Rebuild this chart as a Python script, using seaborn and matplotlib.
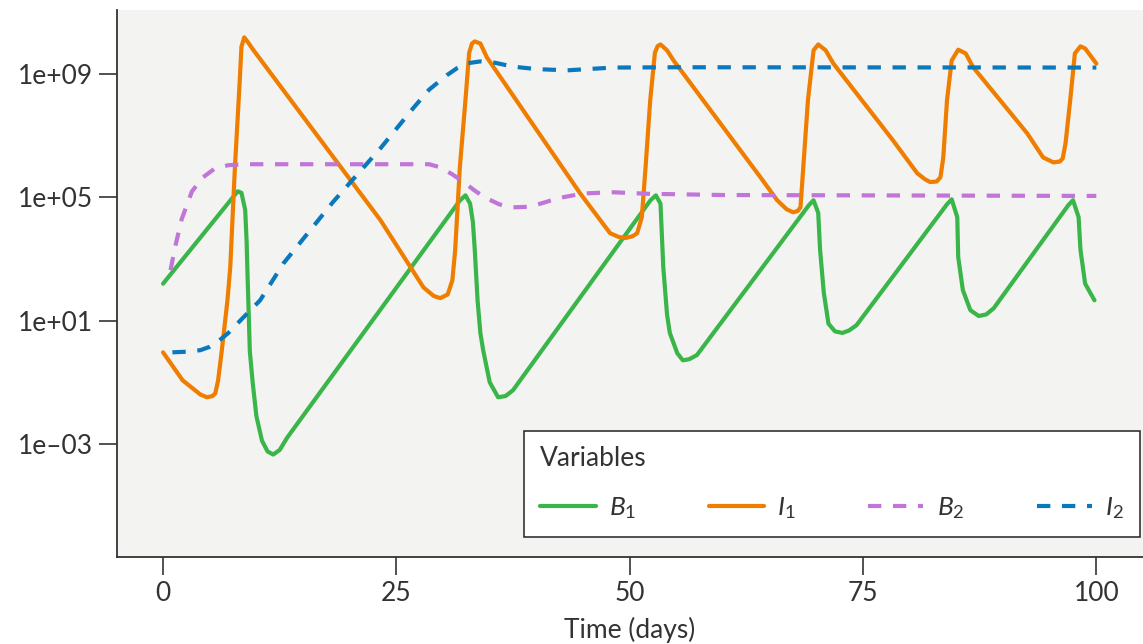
import numpy as np
import pandas as pd
import matplotlib
matplotlib.use('Agg')
import matplotlib.pyplot as plt
import seaborn as sns

sns.set_theme(style='ticks')
plt.rcParams['font.family'] = ['Lato', 'DejaVu Sans']
plt.rcParams['mathtext.fontset'] = 'custom'
plt.rcParams['mathtext.it'] = 'Lato:italic'
plt.rcParams['mathtext.rm'] = 'Lato'

# time (days) and log10 of each variable
b1_t = [0, 7.6, 8.0, 8.4, 8.8, 8.95, 9.05, 9.15, 9.3, 9.6, 10.0, 10.6, 11.2, 11.8, 12.5, 13.3,
        31.8, 32.4, 32.9, 33.2, 33.4, 33.7, 34.0, 34.3, 35.0, 35.9, 36.7, 37.5,
        52.2, 52.8, 53.3, 53.6, 54.0, 54.3, 55.1, 55.7, 56.4, 57.2,
        69.2, 69.7, 70.2, 70.4, 70.8, 71.3, 72.0, 72.8, 73.5, 74.3,
        84.0, 84.5, 85.1, 85.2, 85.7, 86.5, 87.4, 88.2, 89.0,
        97.0, 97.5, 98.1, 98.3, 98.8, 99.8]
b1_log = [2.2, 5.05, 5.2, 5.15, 4.6, 3.6, 2.5, 1.5, 0.0, -1.0, -2.1, -2.9, -3.25, -3.35, -3.2, -2.8,
          4.9, 5.07, 4.8, 4.2, 3.3, 1.66, 0.6, 0.04, -1.0, -1.49, -1.45, -1.26,
          4.9, 5.07, 4.8, 2.73, 1.2, 0.6, -0.06, -0.29, -0.25, -0.12,
          4.75, 4.91, 4.5, 3.3, 1.9, 0.9, 0.65, 0.6, 0.68, 0.85,
          4.78, 4.94, 4.36, 3.06, 1.99, 1.34, 1.15, 1.2, 1.4,
          4.75, 4.91, 4.36, 3.3, 2.2, 1.66]

i1_t = [0, 2.1, 4.0, 4.7, 5.3, 5.6, 5.9, 6.3, 6.9, 7.2, 7.7, 8.2, 8.4, 8.7, 9.1, 9.7,
        23.3, 27.9, 29.0, 29.7, 30.5, 31.0, 31.3, 31.8, 32.4, 32.8, 33.1, 33.4, 34.0, 34.7,
        44.7, 47.9, 48.8, 49.5, 50.3, 50.8, 51.3, 51.7, 52.2, 52.7, 53.0, 53.3, 54.0, 54.7,
        64.0, 65.8, 66.8, 67.5, 68.0, 68.3, 68.6, 69.1, 69.7, 70.2, 71.0, 71.8,
        78.2, 80.8, 81.6, 82.2, 82.9, 83.3, 83.6, 84.0, 84.5, 85.2, 86.0, 86.8,
        92.6, 94.3, 95.4, 96.1, 96.4, 96.7, 97.2, 97.7, 98.3, 98.8, 100.0]
i1_log = [-0.03, -0.94, -1.4, -1.49, -1.45, -1.36, -0.94, 0.04, 1.66, 2.73, 5.98, 8.7, 9.9, 10.2, 10.04, 9.78,
          4.26, 2.08, 1.8, 1.73, 1.85, 2.31, 3.29, 5.98, 8.16, 9.7, 10.0, 10.07, 10.0, 9.55,
          5.13, 3.84, 3.72, 3.68, 3.74, 3.84, 4.36, 5.98, 8.16, 9.7, 9.92, 9.97, 9.78, 9.45,
          5.66, 4.91, 4.62, 4.52, 4.56, 4.68, 5.98, 8.16, 9.78, 9.97, 9.78, 9.36,
          6.86, 5.79, 5.6, 5.5, 5.52, 5.66, 6.3, 8.16, 9.45, 9.8, 9.68, 9.23,
          7.08, 6.3, 6.14, 6.17, 6.27, 6.76, 8.16, 9.68, 9.91, 9.84, 9.35]

b2_t = [0.8, 1.3, 2.0, 3.1, 4.3, 5.5, 7.0, 9.0, 28.5, 29.7, 31.0, 32.2, 33.5, 34.7, 36.0, 37.5,
        39.3, 41.0, 42.2, 45.0, 48.2, 52.0, 60.0, 100.0]
b2_log = [2.64, 3.4, 4.3, 5.2, 5.66, 5.93, 6.05, 6.08, 6.08, 5.98, 5.75, 5.5, 5.2, 4.97, 4.78, 4.68,
          4.7, 4.85, 4.97, 5.13, 5.17, 5.12, 5.08, 5.05]

i2_t = [1.0, 2.5, 4.0, 5.0, 5.8, 7.0, 8.3, 10.4, 12.9, 18.2, 23.3, 26.8, 28.5, 30.4, 31.5, 32.6,
        34.0, 35.5, 37.5, 40.0, 43.3, 46.0, 48.2, 55.0, 100.0]
i2_log = [-0.03, -0.01, 0.04, 0.15, 0.3, 0.6, 1.01, 1.66, 2.86, 4.85, 6.6, 7.9, 8.5, 8.97, 9.2, 9.36,
          9.42, 9.38, 9.25, 9.17, 9.13, 9.18, 9.22, 9.23, 9.22]

labels = ['$\\mathit{B}_{1}$', '$\\mathit{I}_{1}$', '$\\mathit{B}_{2}$', '$\\mathit{I}_{2}$']
colors = ['#3ab54a', '#ef7d00', '#c175d8', '#0a78bc']
series = [(b1_t, b1_log), (i1_t, i1_log), (b2_t, b2_log), (i2_t, i2_log)]
styles = ['-', '-', (0, (3.2, 2.8)), (0, (3.2, 2.8))]

fig = plt.figure(figsize=(11.43, 6.44), dpi=100)
ax = fig.add_axes([0.1024, 0.135, 0.8976, 0.849])
ax.set_facecolor('#f3f3f1')

for (t, lv), lab, col, ls in zip(series, labels, colors, styles):
    df = pd.DataFrame({'time': t, 'value': 10 ** np.array(lv)})
    sns.lineplot(data=df, x='time', y='value', ax=ax, color=col, linewidth=3,
                 linestyle=ls, label=lab, errorbar=None, sort=False)

ax.set_yscale('log')
ax.set_xlim(-4.93, 105)
ax.set_ylim(10 ** -6.68, 10 ** 11.08)
ax.set_xticks([0, 25, 50, 75, 100])
ax.set_xticklabels(['0', '25', '50', '75', '100'])
ax.set_yticks([1e-3, 1e1, 1e5, 1e9])
ax.set_yticklabels(['1e\u201303', '1e+01', '1e+05', '1e+09'])
ax.yaxis.set_minor_locator(matplotlib.ticker.NullLocator())
ax.tick_params(axis='both', length=13, width=1.2, color='#333333', labelsize=19,
               labelcolor='#333333', pad=4)
ax.set_xlabel('Time (days)', fontsize=19, color='#333333', labelpad=8)
ax.set_ylabel('')

for side in ['top', 'right']:
    ax.spines[side].set_visible(False)
for side in ['left', 'bottom']:
    ax.spines[side].set_color('#333333')
    ax.spines[side].set_linewidth(1.3)

leg = ax.legend(title='Variables', ncol=4, loc='lower left', mode='expand',
                bbox_to_anchor=(0.397, 0.037, 0.6, 0.195), borderaxespad=0,
                fontsize=19, title_fontsize=19, alignment='left', fancybox=False,
                framealpha=1, edgecolor='#333333', handlelength=2.1, handletextpad=0.5,
                borderpad=0.6, labelspacing=0.9)
leg.get_frame().set_linewidth(1.2)
leg.get_title().set_color('#333333')
for txt in leg.get_texts():
    txt.set_color('#333333')

fig.savefig('out.png', dpi=100, facecolor='white')
